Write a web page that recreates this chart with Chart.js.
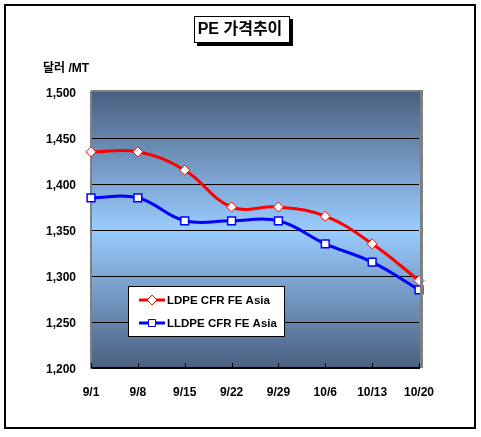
<!DOCTYPE html>
<html>
<head>
<meta charset="utf-8">
<script src="https://cdn.jsdelivr.net/npm/chart.js@4.4.0/dist/chart.umd.min.js"></script>
<style>
body{margin:0;background:#fff;}
canvas{display:block;}
</style>
</head>
<body>
<canvas id="chart" width="481" height="437"></canvas>
<script>
// data
const dates = ["9/1", "9/8", "9/15", "9/22", "9/29", "10/6", "10/13", "10/20"];
const ldpe = [1435, 1435, 1415, 1375, 1375, 1365, 1335, 1295];
const lldpe = [1385, 1385, 1360, 1360, 1360, 1335, 1315, 1285];
const seriesNames = ["LDPE CFR FE Asia", "LLDPE CFR FE Asia"];
const chartTitle = "PE 가격추이";
const unitLabel = "달러 /MT";

const boldFont = {family: "'Liberation Sans', Arial, sans-serif", size: 12, weight: "bold"};

// background gradient, frames, title box, unit label, inside ticks, legend
let decorPlugin = {
    id: "decor",
    beforeDraw(chart){
        let ctx = chart.ctx;
        let a = chart.chartArea;
        ctx.save();
        let grad = ctx.createLinearGradient(0, a.top, 0, a.bottom);
        grad.addColorStop(0, "#4a6080");
        grad.addColorStop(0.5, "#99ccff");
        grad.addColorStop(1, "#4a6080");
        ctx.fillStyle = grad;
        ctx.fillRect(a.left, a.top, a.right - a.left + 2, a.bottom - a.top);
        ctx.restore();
    },
    afterDatasetsDraw(chart){
        let ctx = chart.ctx;
        let a = chart.chartArea;
        ctx.save();
        // gray plot frame top/right
        ctx.fillStyle = "#808080";
        ctx.fillRect(a.left, a.top - 2, a.right - a.left + 3, 2);
        ctx.fillRect(a.right + 1, a.top - 2, 3, a.bottom - a.top + 2);
        // little ticks pointing up from x axis
        let xs = chart.scales.x;
        ctx.strokeStyle = "#000";
        ctx.lineWidth = 1;
        dates.forEach((d, i) => {
            let px = Math.round(xs.getPixelForValue(i)) + 0.5;
            ctx.beginPath();
            ctx.moveTo(px, a.bottom);
            ctx.lineTo(px, a.bottom - 5);
            ctx.stroke();
        });
        ctx.restore();
    },
    afterDraw(chart){
        let ctx = chart.ctx;
        ctx.save();
        // outer frame
        ctx.strokeStyle = "#000";
        ctx.lineWidth = 2;
        ctx.strokeRect(5, 5, 470, 423);

        // title box with shadow
        ctx.fillStyle = "#000";
        ctx.fillRect(197, 19, 96, 27);
        ctx.fillStyle = "#fff";
        ctx.fillRect(194, 16, 96, 27);
        ctx.lineWidth = 1;
        ctx.strokeRect(194.5, 16.5, 95, 26);
        ctx.fillStyle = "#000";
        ctx.font = "bold 16px 'Liberation Sans', 'Noto Sans CJK KR', sans-serif";
        ctx.textAlign = "center";
        ctx.textBaseline = "middle";
        ctx.fillText(chartTitle, 240, 30);

        // unit label
        ctx.font = "bold 12px 'Liberation Sans', 'Noto Sans CJK KR', sans-serif";
        ctx.textAlign = "left";
        ctx.fillText(unitLabel, 43, 69);

        // legend box
        ctx.fillStyle = "#fff";
        ctx.fillRect(128, 286, 157, 51);
        ctx.strokeStyle = "#000";
        ctx.strokeRect(128.5, 286.5, 156, 50);
        chart.data.datasets.forEach((ds, i) => {
            let y = 300 + i * 23;
            ctx.strokeStyle = ds.borderColor;
            ctx.lineWidth = 3;
            ctx.beginPath();
            ctx.moveTo(139, y);
            ctx.lineTo(165, y);
            ctx.stroke();
            ctx.fillStyle = "#fff";
            ctx.lineWidth = 1;
            ctx.beginPath();
            if(ds.pointStyle === "rectRot"){
                ctx.moveTo(152, y - 5);
                ctx.lineTo(157, y);
                ctx.lineTo(152, y + 5);
                ctx.lineTo(147, y);
                ctx.closePath();
            }else{
                ctx.rect(148.5, y - 3.5, 7, 7);
            }
            ctx.fill();
            ctx.stroke();
            ctx.fillStyle = "#000";
            ctx.font = "bold 11.5px 'Liberation Sans', Arial, sans-serif";
            ctx.textAlign = "left";
            ctx.textBaseline = "middle";
            ctx.fillText(ds.label, 167, y + 1);
        });
        ctx.restore();
    }
};

let myCanvas = document.getElementById("chart").getContext("2d");
let graph = new Chart(myCanvas, {
    type: "line",
    data: {
        labels: dates,
        datasets: [{
            label: seriesNames[0],
            data: ldpe,
            borderColor: "#ff0000",
            borderWidth: 3,
            tension: 0.4,
            pointStyle: "rectRot",
            pointRadius: 5,
            pointBackgroundColor: "#fff",
            pointBorderColor: "#ff0000",
            pointBorderWidth: 1
        }, {
            label: seriesNames[1],
            data: lldpe,
            borderColor: "#0000ff",
            borderWidth: 3,
            tension: 0.4,
            pointStyle: "rect",
            pointRadius: 5.5,
            pointBackgroundColor: "#fff",
            pointBorderColor: "#0000ff",
            pointBorderWidth: 1.5
        }]
    },
    options: {
        responsive: false,
        animation: false,
        devicePixelRatio: 1,
        layout: {padding: {top: 92, right: 62, bottom: 0, left: 0}},
        plugins: {
            legend: {display: false},
            title: {display: false},
            tooltip: {enabled: false}
        },
        scales: {
            x: {
                offset: false,
                grid: {display: false},
                border: {display: true, color: "#000", width: 2},
                ticks: {color: "#000", font: boldFont, padding: 9, maxRotation: 0, autoSkip: false},
                afterFit: s => { s.height = 69; }
            },
            y: {
                min: 1200,
                max: 1500,
                grid: {
                    drawTicks: false,
                    color: c => c.tick && c.tick.value === 1500 ? "rgba(0,0,0,0)" : "#000",
                    lineWidth: 1
                },
                border: {display: true, color: "#808080", width: 2},
                ticks: {
                    stepSize: 50,
                    color: "#000",
                    font: boldFont,
                    padding: 15,
                    labelOffset: 2,
                    callback: v => v.toLocaleString("en-US")
                },
                afterFit: s => { s.width = 91; }
            }
        }
    },
    plugins: [decorPlugin]
});
</script>
</body>
</html>
